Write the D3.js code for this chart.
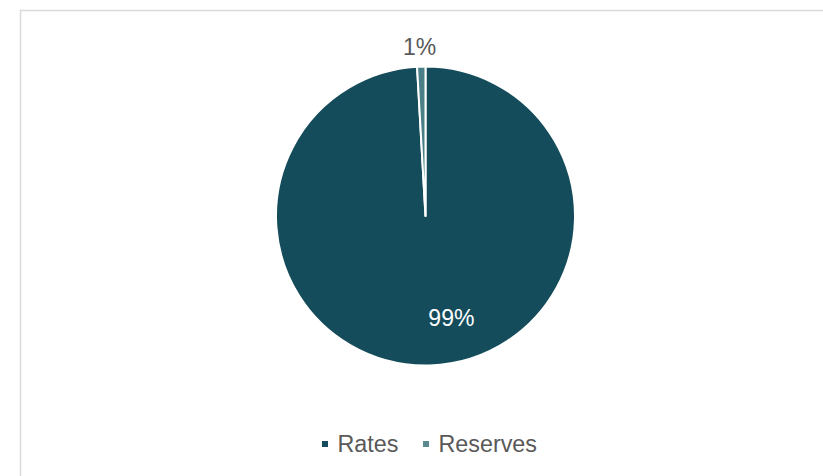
<!DOCTYPE html>
<html>
<head>
<meta charset="utf-8">
<script src="https://cdn.jsdelivr.net/npm/d3@7/dist/d3.min.js"></script>
<style>
  html, body { margin: 0; padding: 0; background: #fff; }
  svg { display: block; font-family: "Liberation Sans", Arial, sans-serif; }
</style>
</head>
<body>
<svg id="chart" width="823" height="476"></svg>
<script>
const categories = ["Rates", "Reserves"];
const values = [99.1, 0.9];
const labels = ["99%", "1%"];
const colors = ["#154C5B", "#4A7F87"];
const legendColors = ["#154C5B", "#5A8A90"];

const svg = d3.select("#chart");
const W = 823, H = 476;

svg.append("rect")
  .attr("x", 20.5).attr("y", 10.5)
  .attr("width", W + 20).attr("height", H + 20)
  .attr("fill", "#fff").attr("stroke", "#d9d9d9").attr("stroke-width", 1.5);

const cx = 425.5, cy = 216, R = 149.5;
const g = svg.append("g").attr("transform", `translate(${cx},${cy})`);

const data = categories.map((c, i) => ({ name: c, value: values[i], label: labels[i], color: colors[i] }));
const pie = d3.pie().value(d => d.value).sort(null);
const arcs = pie(data);
const arc = d3.arc().innerRadius(0).outerRadius(R);

g.selectAll("path.slice").data(arcs).enter().append("path")
  .attr("class", "slice")
  .attr("d", arc)
  .attr("fill", d => d.data.color)
  .attr("stroke", "#fff")
  .attr("stroke-width", 2)
  .attr("stroke-linejoin", "round");

const innerLabel = d3.arc().innerRadius(R * 0.68).outerRadius(R * 0.68);
const outerLabel = d3.arc().innerRadius(R + 20).outerRadius(R + 20);

g.selectAll("text.lbl").data(arcs).enter().append("text")
  .attr("class", "lbl")
  .attr("transform", d => {
    const small = (d.endAngle - d.startAngle) < 0.3;
    const p = small ? outerLabel.centroid(d) : innerLabel.centroid(d);
    const dx = small ? -1 : 23;
    return `translate(${p[0] + dx},${p[1]})`;
  })
  .attr("text-anchor", "middle")
  .attr("dy", "0.35em")
  .attr("font-size", 23)
  .attr("fill", d => (d.endAngle - d.startAngle) < 0.3 ? "#595959" : "#ffffff")
  .text(d => d.data.label);

// Legend
const legend = svg.append("g").attr("transform", "translate(322,452)");
const offsets = [0, 101];
categories.forEach((c, i) => {
  const lg = legend.append("g").attr("transform", `translate(${offsets[i]},0)`);
  lg.append("rect").attr("x", 0).attr("y", -11).attr("width", 6).attr("height", 6)
    .attr("fill", legendColors[i]);
  lg.append("text").attr("x", 15.5).attr("y", 0)
    .attr("font-size", 23.3).attr("fill", "#595959").text(c);
});
</script>
</body>
</html>
